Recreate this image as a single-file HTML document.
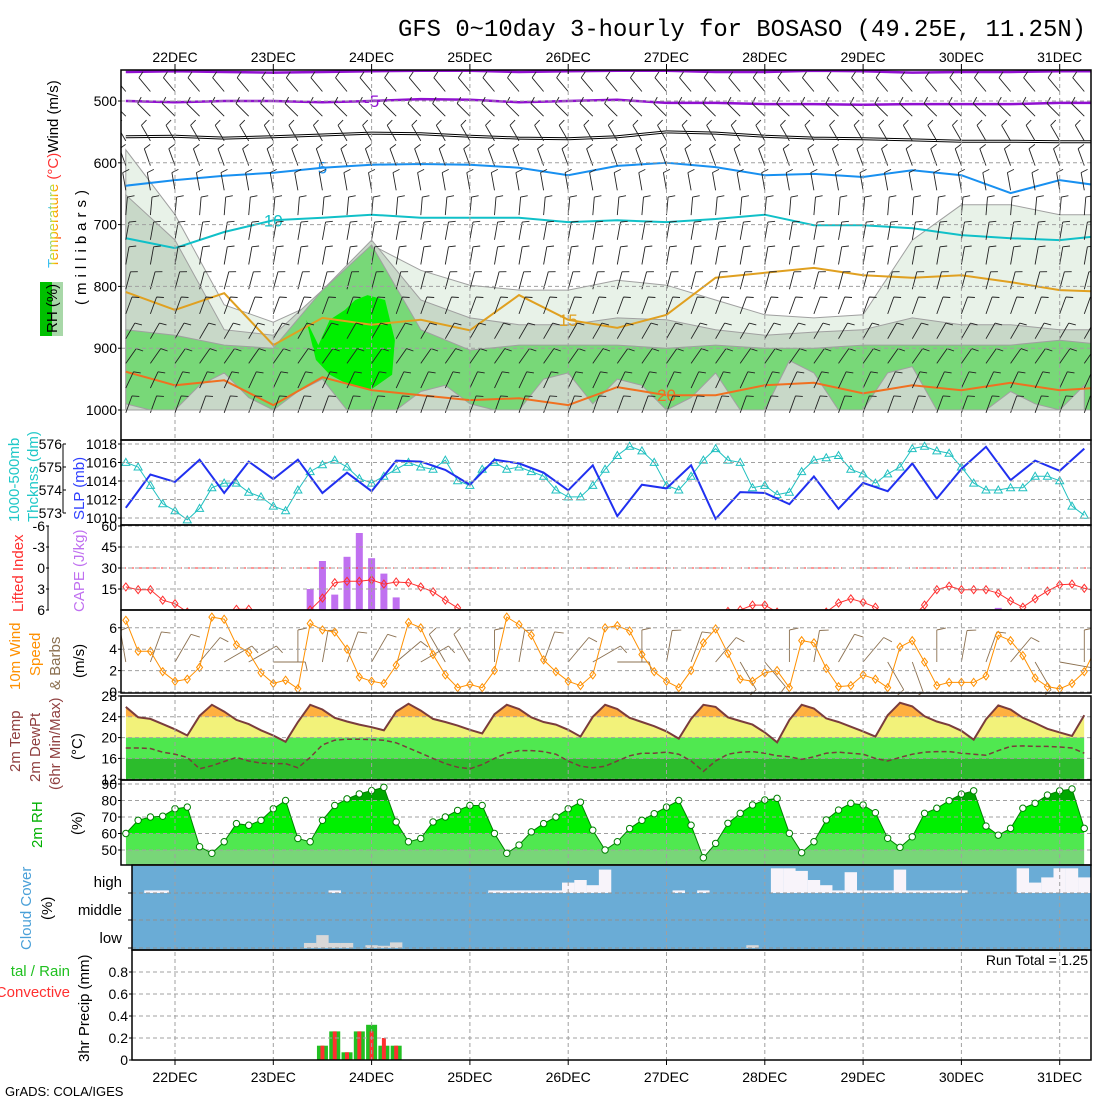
<!DOCTYPE html>
<html><head><meta charset="utf-8"><style>
html,body{margin:0;padding:0;background:#fff;}
svg{display:block;font-family:"Liberation Sans",sans-serif;}
</style></head><body>
<svg id="chart" width="1100" height="1100" viewBox="0 0 1100 1100" xmlns="http://www.w3.org/2000/svg">
<defs>
<clipPath id="cU"><rect x="121" y="70" width="970" height="370"/></clipPath>
<clipPath id="cS"><rect x="121" y="440" width="970" height="85"/></clipPath>
<clipPath id="cC"><rect x="121" y="525" width="970" height="85"/></clipPath>
<clipPath id="cW"><rect x="121" y="610" width="970" height="85"/></clipPath>
<clipPath id="cT"><rect x="121" y="695" width="970" height="85"/></clipPath>
<clipPath id="cR"><rect x="121" y="780" width="970" height="85"/></clipPath>
<clipPath id="cP"><rect x="132" y="950" width="959" height="110"/></clipPath>
<linearGradient id="rainbow" x1="0" y1="1" x2="0" y2="0"><stop offset="0" stop-color="#ff3030"/><stop offset="0.3" stop-color="#ff9900"/><stop offset="0.55" stop-color="#e0e020"/><stop offset="0.8" stop-color="#30c0ff"/><stop offset="1" stop-color="#a040ff"/></linearGradient>
</defs>
<text x="398" y="36" font-family="Liberation Mono, monospace" font-size="24" textLength="688" lengthAdjust="spacingAndGlyphs">GFS 0~10day 3-hourly for BOSASO (49.25E, 11.25N)</text>
<g id="gU"></g>
<g id="gS"></g>
<g id="gC"></g>
<g id="gW"></g>
<g id="gT"></g>
<g id="gR"></g>
<g id="gCl"></g>
<g id="gP"></g>
<g id="gAx"></g>
<g font-size="15">
<text transform="translate(58,268) rotate(-90)"><tspan fill="url(#rainbow)">Temperature</tspan><tspan fill="#ff3030"> (°C)</tspan><tspan fill="#000">Wind (m/s)</tspan></text>
<text transform="translate(86,305) rotate(-90)" letter-spacing="5">(millibars)</text>
<rect x="40" y="282" width="23" height="54" fill="#00c000"/>
<rect x="52" y="282" width="11" height="54" fill="#a8d8a8"/>
<text transform="translate(57,333) rotate(-90)" fill="#000">RH (%)</text>
<text transform="translate(19,522) rotate(-90)" fill="#20c8c8">1000-500mb</text>
<text transform="translate(38,522) rotate(-90)" fill="#20c8c8">Thcknss (dm)</text>
<text transform="translate(84,520) rotate(-90)" fill="#3040ff">SLP (mb)</text>
<text transform="translate(23,612) rotate(-90)" fill="#ff3030">Lifted Index</text>
<text transform="translate(84,612) rotate(-90)" fill="#c070f0">CAPE (J/kg)</text>
<text transform="translate(20,690) rotate(-90)" fill="#ff9000">10m Wind</text>
<text transform="translate(40,676) rotate(-90)" fill="#ff9000">Speed</text>
<text transform="translate(60,690) rotate(-90)" fill="#8b7050">&amp; Barbs</text>
<text transform="translate(84,678) rotate(-90)">(m/s)</text>
<text transform="translate(20,772) rotate(-90)" fill="#904040">2m Temp</text>
<text transform="translate(40,782) rotate(-90)" fill="#904040">2m DewPt</text>
<text transform="translate(60,790) rotate(-90)" fill="#904040">(6hr Min/Max)</text>
<text transform="translate(82,760) rotate(-90)">(°C)</text>
<text transform="translate(42,848) rotate(-90)" fill="#00b000">2m RH</text>
<text transform="translate(82,835) rotate(-90)">(%)</text>
<text transform="translate(31,950) rotate(-90)" fill="#4aa0d8">Cloud Cover</text>
<text transform="translate(52,920) rotate(-90)">(%)</text>
<text x="122" y="887" text-anchor="end">high</text>
<text x="122" y="915" text-anchor="end">middle</text>
<text x="122" y="943" text-anchor="end">low</text>
<text x="70" y="976" text-anchor="end" fill="#20c020">tal / Rain</text>
<text x="70" y="997" text-anchor="end" fill="#ff3030">Convective</text>
<text transform="translate(89,1062) rotate(-90)">3hr Precip (mm)</text>
<text x="1088" y="965" text-anchor="end" font-size="14">Run Total = 1.25</text>
<text x="5" y="1096" font-size="13">GrADS: COLA/IGES</text>
</g>
</svg>
<script>
// ---- data (time in hours from 22DEC 00Z) ----
const days = ["22DEC","23DEC","24DEC","25DEC","26DEC","27DEC","28DEC","29DEC","30DEC","31DEC"];
const t12 = [-12,0,12,24,36,48,60,72,84,96,108,120,132,144,156,168,180,192,204,216,228];
const isoM10 = [453,452,453,454,453,452,451,451,453,452,451,451,453,453,451,452,454,453,453,452,452];
const isoM5 = [500,502,500,500,502,500,497,498,502,500,498,503,503,505,505,506,505,505,505,503,503];
const isoFR = [558,557,560,558,555,552,553,557,560,561,558,550,552,557,560,561,563,565,565,566,566];
const iso5 = [637,628,621,616,608,603,602,603,608,620,605,600,607,620,618,623,612,620,649,628,639];
const iso10 = [722,738,712,693,689,684,689,689,689,696,693,696,691,684,701,701,706,717,722,725,717];
const iso15 = [809,838,811,895,851,862,854,871,814,854,867,846,786,778,770,782,786,782,793,806,809];
const iso20 = [938,960,952,992,947,968,976,984,981,992,963,976,976,960,956,973,960,968,956,968,963];
const rhA = [579,684,830,858,822,733,774,798,806,806,790,798,822,846,851,846,725,668,668,684,684];
const rhB = [652,725,870,879,806,725,822,851,862,862,851,854,870,879,874,870,851,862,862,870,870];
const rhC = [870,879,895,900,806,733,870,903,895,895,895,900,895,900,900,895,895,895,895,887,895];
const t6 = [-12,-6,0,6,12,18,24,30,36,42,48,54,60,66,72,78,84,90,96,102,108,114,120,126,132,138,144,150,156,162,168,174,180,186,192,198,204,210,216,222];
const rhDry = [990,1000,1000,960,940,980,1000,970,950,1000,1000,1000,970,960,990,1000,1000,950,940,990,950,960,1000,980,940,1000,1000,920,940,1000,1000,940,930,1000,1000,1000,970,990,1000,960];
const blobT = [32,35,37.8,41.5,44,47,51.3,53.7,53,47.6,42.7,37.8,34.4];
const blobP = [854,895,854,838,822,814,822,887,943,968,960,943,919];
const barbLevels = [470,510,550,590,630,670,710,750,790,830,870,910,950,990];
const barbDirs = [320,315,330,340,350,5,10,10,15,20,30,35,25,20];
const barbSpeeds = [6,6,5,5,5,6,6,6,6,5,6,6,5,5];
const slp = [1011.1,1014.7,1013.9,1016.3,1012.7,1016.1,1014.2,1016.3,1012.7,1014.9,1012.9,1016.2,1016.1,1015.2,1013.6,1016.3,1015.9,1014.9,1013.0,1015.7,1010.2,1013.6,1013.2,1015.7,1009.9,1012.8,1012.7,1011.5,1014.5,1011.0,1013.8,1012.9,1015.9,1012.1,1015.3,1017.7,1014.1,1016.2,1015.1,1017.5];
const thick = [575.2,575.0,574.2,573.4,573.1,572.7,573.2,574.1,574.3,574.3,573.9,573.7,573.3,573.1,574.0,574.8,575.1,575.3,575.0,574.5,574.3,574.6,574.9,575.2,575.0,574.9,575.3,574.4,574.2,574.9,575.2,574.9,575.0,574.8,574.6,574.0,573.7,573.7,574.2,574.9,575.5,575.9,575.7,575.2,574.2,574.0,574.6,575.3,575.8,575.3,575.2,574.1,574.2,573.8,573.9,574.8,575.3,575.4,575.5,574.9,574.7,574.3,574.7,575.0,575.8,575.9,575.7,575.6,575.0,574.3,574.0,574.0,574.1,574.1,574.6,574.6,574.4,573.3,572.9];
const li = [2.7,3.1,3.1,4.6,5.1,6.3,7,7,7,5.9,5.9,7,7,7,7,6,4.3,2.1,1.9,1.9,1.7,2.3,2.0,2.1,2.7,3.4,4.6,5.7,7,7,7,7,7,7,7,7,7,7,7,7,7,7,7,7,7,7,7,7,7,6.2,6.0,5.3,5.3,6.3,7,7,7,6.3,5.0,4.4,4.9,5.6,7,7,7,5.3,3.1,2.6,3.1,3.1,3.1,3.6,4.7,5.6,4.4,3.3,2.4,2.3,2.9,3.3];
const capeT = [33,36,39,42,45,48,51,54,201];
const capeV = [15,35,11,38,55,37,26,9,1.5];
const ws = [6.7,3.8,3.8,1.9,1.0,1.2,2.3,7.0,6.8,4.4,3.7,1.8,0.8,1.1,0.3,6.4,5.8,5.6,4.0,1.4,1.0,0.8,2.5,6.5,6.0,3.5,1.6,0.4,0.7,0.4,2.0,7.0,6.3,5.3,3.0,1.9,1.0,0.6,1.6,6.0,6.2,5.7,3.5,1.9,1.0,0.4,2.0,4.6,5.9,3.6,1.2,1.0,1.8,2.0,0.4,4.8,4.6,2.2,0.5,0.6,1.6,1.2,0.4,4.2,4.8,2.8,0.6,0.9,0.9,0.9,1.5,5.3,4.8,3.4,1.3,0.5,0.3,0.8,1.9,4.2];
const wdir10 = [350,20,30,40,60,60,90,0,10,20,30,50,60,330,330,0,10,20,40,60,90,0,10,20,40,150,140,0,10,30,40,150,160,0,10,20,40,150,100,0];
const temp = [25.9,23.9,23.6,22.6,21.6,20.4,24.2,26.3,25.0,23.4,22.6,21.4,20.4,19.2,23.0,26.3,25.4,23.8,23.1,22.5,22.0,21.4,25.0,26.5,25.2,23.6,23.0,22.3,21.5,20.8,24.5,26.3,25.5,23.9,23.0,22.5,21.5,20.2,24.0,26.3,25.5,23.8,23.0,22.2,21.2,19.8,23.6,26.3,25.9,23.9,23.2,22.5,21.0,19.1,23.4,26.3,25.6,23.7,23.0,22.1,21.2,20.2,24.3,26.7,26.0,24.1,23.1,22.4,21.3,19.6,23.5,26.2,25.4,23.8,22.8,21.7,21.0,20.3,24.3];
const dewp = [18.0,18.0,17.9,17.2,16.8,16.2,14.0,14.6,15.4,16.2,15.5,15.1,15.0,15.0,14.2,16.2,18.6,19.5,19.7,19.7,19.6,19.5,19.0,18.0,17.0,16.0,15.0,14.3,14.0,14.8,16.0,17.0,17.5,17.5,17.3,16.8,15.5,14.5,14.2,14.5,15.5,16.5,17.0,17.0,17.2,16.8,15.5,13.5,15.5,16.8,17.2,17.3,17.0,16.5,16.3,15.8,16.3,17.0,17.2,17.0,16.8,16.0,15.5,16.2,16.8,17.2,17.3,17.3,17.0,16.8,16.6,17.5,18.3,18.4,18.3,18.3,18.2,18.0,17.0];
const rh2 = [60,68,70,70.5,75,76,52,48,55,66,65,68,75,80,57,55,68,77,81,84,86,88,67,55,57,67,70,74,77,77,60,48,53,61,66,70,75,79,62,50,55,63,68,72,76,80,65,45.3,54,66.2,72.2,77.3,80.3,81.3,60.1,48.4,55,68.2,74.2,78.3,77.3,72.6,57.1,51.6,58,72.2,75.3,79.9,83.9,85.9,64.5,59,63.1,75.3,78.3,83.3,85.9,87,63.1];
const highClear = [0,0,0.1,0.1,0,0,0,0,0,0,0,0,0,0,0,0,0,0.1,0,0,0,0,0,0,0,0,0,0,0,0,0.1,0.1,0.1,0.1,0.1,0.1,0.4,0.5,0.3,0.9,0,0,0,0,0,0.1,0,0.1,0,0,0,0,0,0.95,0.95,0.85,0.5,0.3,0.1,0.8,0.1,0.1,0.1,0.9,0.1,0.1,0.1,0.1,0.1,0,0,0,0,0.95,0.4,0.6,0.95,0.95,0.6];
const lowCloud = [0,0,0,0,0,0,0,0,0,0,0,0,0,0,0,0.18,0.46,0.18,0.18,0,0.1,0.08,0.2,0,0,0,0,0,0,0,0,0,0,0,0,0,0,0,0,0,0,0,0,0,0,0,0,0,0,0,0,0.1,0,0,0,0,0,0,0,0,0,0,0,0,0,0,0,0,0,0,0,0,0,0,0,0,0,0,0];
const precipT = [36,39,42,45,48,51,54];
const precipTotal = [0.13,0.26,0.07,0.26,0.32,0.13,0.13];
const precipConv = [0.13,0.26,0.07,0.26,0.26,0.20,0.13];
const slpTicks = [1010,1012,1014,1016,1018];
const thTicks = [573,574,575,576];
const capeTicks = [15,30,45,60];
const liTicks = [-6,-3,0,3,6];
const wsTicks = [0,2,4,6];
const tTicks = [12,16,20,24,28];
const rhTicks = [50,60,70,80,90];
const prTicks = [0,0.2,0.4,0.6,0.8];
const pTicks = [500,600,700,800,900,1000];

// ---- scales ----
const X = t => 175 + t*98.3/24;
const yP = p => 101 + (p-500)*0.618;
const ySLP = v => 444 + (1018-v)*9.25;
const yTh = v => 444 + (576-v)*23;
const yCAPE = v => 610 - v*1.4;
const yLI = v => 568 + v*7;
const yWS = v => 692 - v*10.7;
const yT = v => 696 + (28-v)*5.2;
const yRH = v => 784 + (90-v)*1.65;
const yPr = v => 1060 - v*110;
const t3 = i => -12 + 3*i;

const NS = 'http://www.w3.org/2000/svg';
function mk(tag, attrs, parent){ const e = document.createElementNS(NS, tag); for (const k in attrs) e.setAttribute(k, attrs[k]); parent.appendChild(e); return e; }
const $ = id => document.getElementById(id);
const line = pts => pts.map((p,i)=>(i?'L':'M')+p[0].toFixed(1)+','+p[1].toFixed(1)).join('');

// ---- upper panel ----
const gU = $('gU');
const u = mk('g', {'clip-path':'url(#cU)'}, gU);
function band(tops, col, name){
  const pts = tops.map((p,i)=>[X(t12[i]), yP(p)]);
  const d = line(pts) + 'L'+X(t12[t12.length-1])+','+yP(1000)+'L'+X(t12[0])+','+yP(1000)+'Z';
  const e = mk('path', {d:d, fill:col, stroke:'#a0a0a0','stroke-width':1}, u);
  
  
}
band(rhA, '#e8f2e8', 'rh-30-fill');
band(rhB, '#c8d8c8', 'rh-50-fill');
band(rhC, '#78d878', 'rh-70-fill');
{
  const pts = rhDry.map((p,i)=>[X(t6[i]), yP(p)]);
  const d = line(pts) + 'L'+X(t6[t6.length-1])+','+yP(1000)+'L'+X(t6[0])+','+yP(1000)+'Z';
  const e = mk('path', {d:d, fill:'#c8d8c8', stroke:'#a0a0a0'}, u);
  
  
  const b = mk('path', {d: line(blobT.map((t,i)=>[X(t), yP(blobP[i])]))+'Z', fill:'#00f000'}, u);
  
  
}
// isotherms
function iso(arr, col, w, name, label, lt){
  const pts = arr.map((p,i)=>[X(t12[i]), yP(p)]);
  const e = mk('path', {d: line(pts), fill:'none', stroke:col, 'stroke-width':w}, u);
  
  
  if (label) {
    const i = lt; const tx = mk('text', {x:X(t12[i]), y:yP(arr[i])+6, fill:col, 'font-size':17, 'text-anchor':'middle'}, u);
    
    
    tx.textContent = label;
  }
}
iso(isoM10, '#9010d0', 2.5, 'isotherm-m10');
iso(isoM5, '#9010d0', 2.5, 'isotherm-m5', '-5', 5);
iso(isoFR, '#000', 3, 'isotherm-freezing');
iso(isoFR, '#fff', 1, 'isotherm-freezing-inner');
iso(iso5, '#1890f0', 2, 'isotherm-5', '5', 4);
iso(iso10, '#10c0c8', 2, 'isotherm-10', '10', 3);
iso(iso15, '#e0a020', 2, 'isotherm-15', '15', 9);
iso(iso20, '#f07020', 2, 'isotherm-20', '20', 11);
// wind barbs
function barb(parent, x, y, dir, spd, L, col, tk){
  const a = dir*Math.PI/180, sx = Math.sin(a), sy = -Math.cos(a);
  const ex = x+sx*L, ey = y+sy*L;
  let d = 'M'+x.toFixed(1)+','+y.toFixed(1)+'L'+ex.toFixed(1)+','+ey.toFixed(1);
  const px = Math.cos(a), py = Math.sin(a);
  let n = Math.floor(spd/5), half = (spd % 5) >= 2.5, k = 0;
  for (; k<n; k++){ const bx=ex-sx*k*4, by=ey-sy*k*4; d += 'M'+bx.toFixed(1)+','+by.toFixed(1)+'l'+(px*tk+sx*2).toFixed(1)+','+(py*tk+sy*2).toFixed(1); }
  if (half){ const bx=ex-sx*k*4, by=ey-sy*k*4; d += 'M'+bx.toFixed(1)+','+by.toFixed(1)+'l'+(px*tk*0.55).toFixed(1)+','+(py*tk*0.55).toFixed(1); }
  const e = mk('path', {d:d, stroke:col, 'stroke-width':0.9, fill:'none'}, parent);
  
  
}
barbLevels.forEach((p,j)=>{ t6.forEach(t=>{ barb(u, X(t), yP(p)+9, barbDirs[j], barbSpeeds[j], 18, '#222', 7); }); });

// ---- grid & axes ----
const ax = $('gAx');
function hgrid(y, x0, x1){ const e = mk('line', {x1:x0, x2:x1, y1:y, y2:y, stroke:'#a0a0a0', 'stroke-dasharray':'4,3'}, ax);   }
function tick(x, y, txt, anchor, color, name){ const e = mk('text', {x:x, y:y+5, 'text-anchor':anchor||'end', 'font-size':14, fill:color||'#000'}, ax);   e.textContent = txt; mk('line',{x1:x+1,x2:x+4,y1:y,y2:y,stroke:'#000'},ax); }
pTicks.forEach(p=>{ hgrid(yP(p),121,1091); tick(117, yP(p), p, 'end', '#000', 'pressure-tick-label'); });
slpTicks.forEach(v=>{ hgrid(ySLP(v),121,1091); tick(117, ySLP(v), v, 'end', '#000', 'slp-tick-label'); });
thTicks.forEach(v=>{ tick(62, yTh(v), v, 'end', '#000', 'thickness-tick-label'); });
capeTicks.forEach(v=>{ hgrid(yCAPE(v),121,1091); tick(117, yCAPE(v), v, 'end', '#000', 'cape-tick-label'); });
liTicks.forEach(v=>{ tick(45, yLI(v), v, 'end', '#000', 'li-tick-label'); });
wsTicks.forEach(v=>{ hgrid(yWS(v),121,1091); tick(117, yWS(v), v, 'end', '#000', 'wind-tick-label'); });
rhTicks.forEach(v=>{ tick(117, yRH(v), v, 'end', '#000', 'rh-tick-label'); });
tTicks.forEach(v=>{ tick(117, yT(v), v, 'end', '#000', 'temp-tick-label'); });
prTicks.forEach(v=>{ hgrid(yPr(v),132,1091); tick(128, yPr(v), v, 'end', '#000', 'precip-tick-label'); });
mk('line',{x1:63,x2:63,y1:444,y2:513,stroke:'#000'},ax);
mk('line',{x1:48,x2:48,y1:526,y2:610,stroke:'#000'},ax);
days.forEach((d,i)=>{
  const x = X(24*i);
  const top = mk('text', {x:x, y:62, 'text-anchor':'middle', 'font-size':14}, ax);
  
  
  top.textContent = d;
  const bot = mk('text', {x:x, y:1082, 'text-anchor':'middle', 'font-size':14}, ax);
  
  
  bot.textContent = d;
});

// ---- SLP / thickness ----
const gS = mk('g', {'clip-path':'url(#cS)'}, $('gS'));
{
  const e = mk('path', {d: line(thick.map((v,i)=>[X(t3(i)), yTh(v)])), fill:'none', stroke:'#20c0c0', 'stroke-width':1}, gS);
  
  
  thick.forEach((v,i)=>{ const x=X(t3(i)), y=yTh(v);
    const m = mk('path', {d:`M${x},${y-4}L${x+4},${y+3}L${x-4},${y+3}Z`, fill:'none', stroke:'#20c0c0'}, gS);
    
     });
  const s = mk('path', {d: line(slp.map((v,i)=>[X(t6[i]), ySLP(v)])), fill:'none', stroke:'#2030f0', 'stroke-width':2}, gS);
  
  
}
// ---- CAPE / LI ----
const gC = mk('g', {'clip-path':'url(#cC)'}, $('gC'));
{
  capeT.forEach((t,i)=>{ const y = yCAPE(capeV[i]);
    const b = mk('rect', {x:X(t)-3.5, y:y, width:7, height:610-y, fill:'#c070f0'}, gC);
    
     });
  const z = mk('line', {x1:121, x2:1091, y1:yLI(0), y2:yLI(0), stroke:'#ff3030', 'stroke-dasharray':'5,3'}, gC);
  
  
  const e = mk('path', {d: line(li.map((v,i)=>[X(t3(i)), yLI(v)])), fill:'none', stroke:'#ff3030'}, gC);
  
  
  li.forEach((v,i)=>{ const x=X(t3(i)), y=yLI(v);
    const m = mk('path', {d:`M${x},${y-4}L${x+3},${y}L${x},${y+4}L${x-3},${y}Z`, fill:'none', stroke:'#ff3030'}, gC);
    
     });
}
// ---- 10m wind ----
const gW = mk('g', {'clip-path':'url(#cW)'}, $('gW'));
{
  wdir10.forEach((d,i)=>{ barb(gW, X(t6[i]), 662, d, 7, 32, '#8b7050', 9); });
  const e = mk('path', {d: line(ws.map((v,i)=>[X(t3(i)), yWS(v)])), fill:'none', stroke:'#ff9000'}, gW);
  
  
  ws.forEach((v,i)=>{ const x=X(t3(i)), y=yWS(v);
    const m = mk('path', {d:`M${x},${y-4}L${x+3},${y}L${x},${y+4}L${x-3},${y}Z`, fill:'none', stroke:'#ff9000'}, gW);
    
     });
}
// ---- temperature ----
const gT = mk('g', {'clip-path':'url(#cT)'}, $('gT'));
{
  const x0 = X(t3(0)), x1 = X(t3(temp.length-1));
  mk('clipPath', {id:'underT'}, gT).appendChild(mk('path', {d: line(temp.map((v,i)=>[X(t3(i)), yT(v)]))+`L${x1},780L${x0},780Z`}, gT));
  const gb = mk('g', {'clip-path':'url(#underT)'}, gT);
  [[24,28,'#ffb040'],[20,24,'#f2f27a'],[16,20,'#50e850'],[10,16,'#2cbc2c']].forEach(b=>{
    const r = mk('rect', {x:x0, y:yT(b[1]), width:x1-x0, height:yT(b[0])-yT(b[1]), fill:b[2]}, gb);
    
     });
  tTicks.forEach(v=>{ mk('line',{x1:121,x2:1091,y1:yT(v),y2:yT(v),stroke:'#a0a0a0','stroke-dasharray':'4,3'},gT); });
  const e = mk('path', {d: line(temp.map((v,i)=>[X(t3(i)), yT(v)])), fill:'none', stroke:'#7a3c3c', 'stroke-width':2}, gT);
  
  
  const dp = mk('path', {d: line(dewp.map((v,i)=>[X(t3(i)), yT(v)])), fill:'none', stroke:'#7a3c3c', 'stroke-width':1.5, 'stroke-dasharray':'5,3'}, gT);
  
  
}
// ---- 2m RH ----
const gR = mk('g', {'clip-path':'url(#cR)'}, $('gR'));
{
  const x0 = X(t3(0)), x1 = X(t3(rh2.length-1));
  mk('clipPath', {id:'underR'}, gR).appendChild(mk('path', {d: line(rh2.map((v,i)=>[X(t3(i)), yRH(v)]))+`L${x1},865L${x0},865Z`}, gR));
  const gb = mk('g', {'clip-path':'url(#underR)'}, gR);
  [[80,95,'#00a800'],[60,80,'#00f000'],[50,60,'#50e850'],[30,50,'#78d678']].forEach(b=>{
    const r = mk('rect', {x:x0, y:yRH(b[1]), width:x1-x0, height:yRH(b[0])-yRH(b[1]), fill:b[2]}, gb);
    
     });
  rhTicks.forEach(v=>{ mk('line',{x1:121,x2:1091,y1:yRH(v),y2:yRH(v),stroke:'#a0a0a0','stroke-dasharray':'4,3'},gR); });
  const e = mk('path', {d: line(rh2.map((v,i)=>[X(t3(i)), yRH(v)])), fill:'none', stroke:'#008000'}, gR);
  
  
  rh2.forEach((v,i)=>{ const c = mk('circle', {cx:X(t3(i)), cy:yRH(v), r:3.2, fill:'#fff', stroke:'#008000'}, gR);
    
     });
}
// ---- cloud cover ----
const gCl = $('gCl');
{
  const bg = mk('rect', {x:132, y:866, width:959, height:84, fill:'#6aacd6'}, gCl);
  
  
  highClear.forEach((v,i)=>{ if(!v) return; const h = v*26;
    const r = mk('rect', {x:X(t3(i))-6.2, y:893-h, width:12.4, height:h, fill:'#f8f4fa'}, gCl);
    
     });
  lowCloud.forEach((v,i)=>{ if(!v) return; const h = v*28;
    const r = mk('rect', {x:X(t3(i))-6.2, y:948-h, width:12.4, height:h, fill:'#d8d8d8'}, gCl);
    
     });
  [893,920,948].forEach(y=>{ mk('line',{x1:132,x2:1091,y1:y,y2:y,stroke:'#909090','stroke-dasharray':'4,3'},gCl); mk('line',{x1:128,x2:132,y1:y,y2:y,stroke:'#000'},gCl); });
}
// ---- precip ----
const gP = mk('g', {'clip-path':'url(#cP)'}, $('gP'));
precipT.forEach((t,i)=>{
  const x = X(t);
  const g = mk('rect', {x:x-5.5, y:yPr(precipTotal[i]), width:11, height:1060-yPr(precipTotal[i]), fill:'#22c022'}, gP);
  
  
  const r = mk('rect', {x:x-2, y:yPr(precipConv[i]), width:4, height:1060-yPr(precipConv[i]), fill:'#ff3030'}, gP);
  
  
});
// vertical day grid + frames
days.forEach((d,i)=>{ const x = X(24*i);
  const v = mk('line', {x1:x, x2:x, y1:70, y2:1060, stroke:'#a0a0a0', 'stroke-dasharray':'4,3'}, ax);
  
  
  mk('line', {x1:x, x2:x, y1:64, y2:74, stroke:'#000'}, ax);
  mk('line', {x1:x, x2:x, y1:1060, y2:1065, stroke:'#000'}, ax);
});
[[121,70,1091,440],[121,440,1091,525],[121,525,1091,610],[121,610,1091,693],[121,696,1091,780],[121,780,1091,865],[132,865,1091,950],[132,950,1091,1060]].forEach(r=>{
  const e = mk('rect', {x:r[0], y:r[1], width:r[2]-r[0], height:r[3]-r[1], fill:'none', stroke:'#000', 'stroke-width':1.5}, ax);
  
  
});
</script>
</body></html>
